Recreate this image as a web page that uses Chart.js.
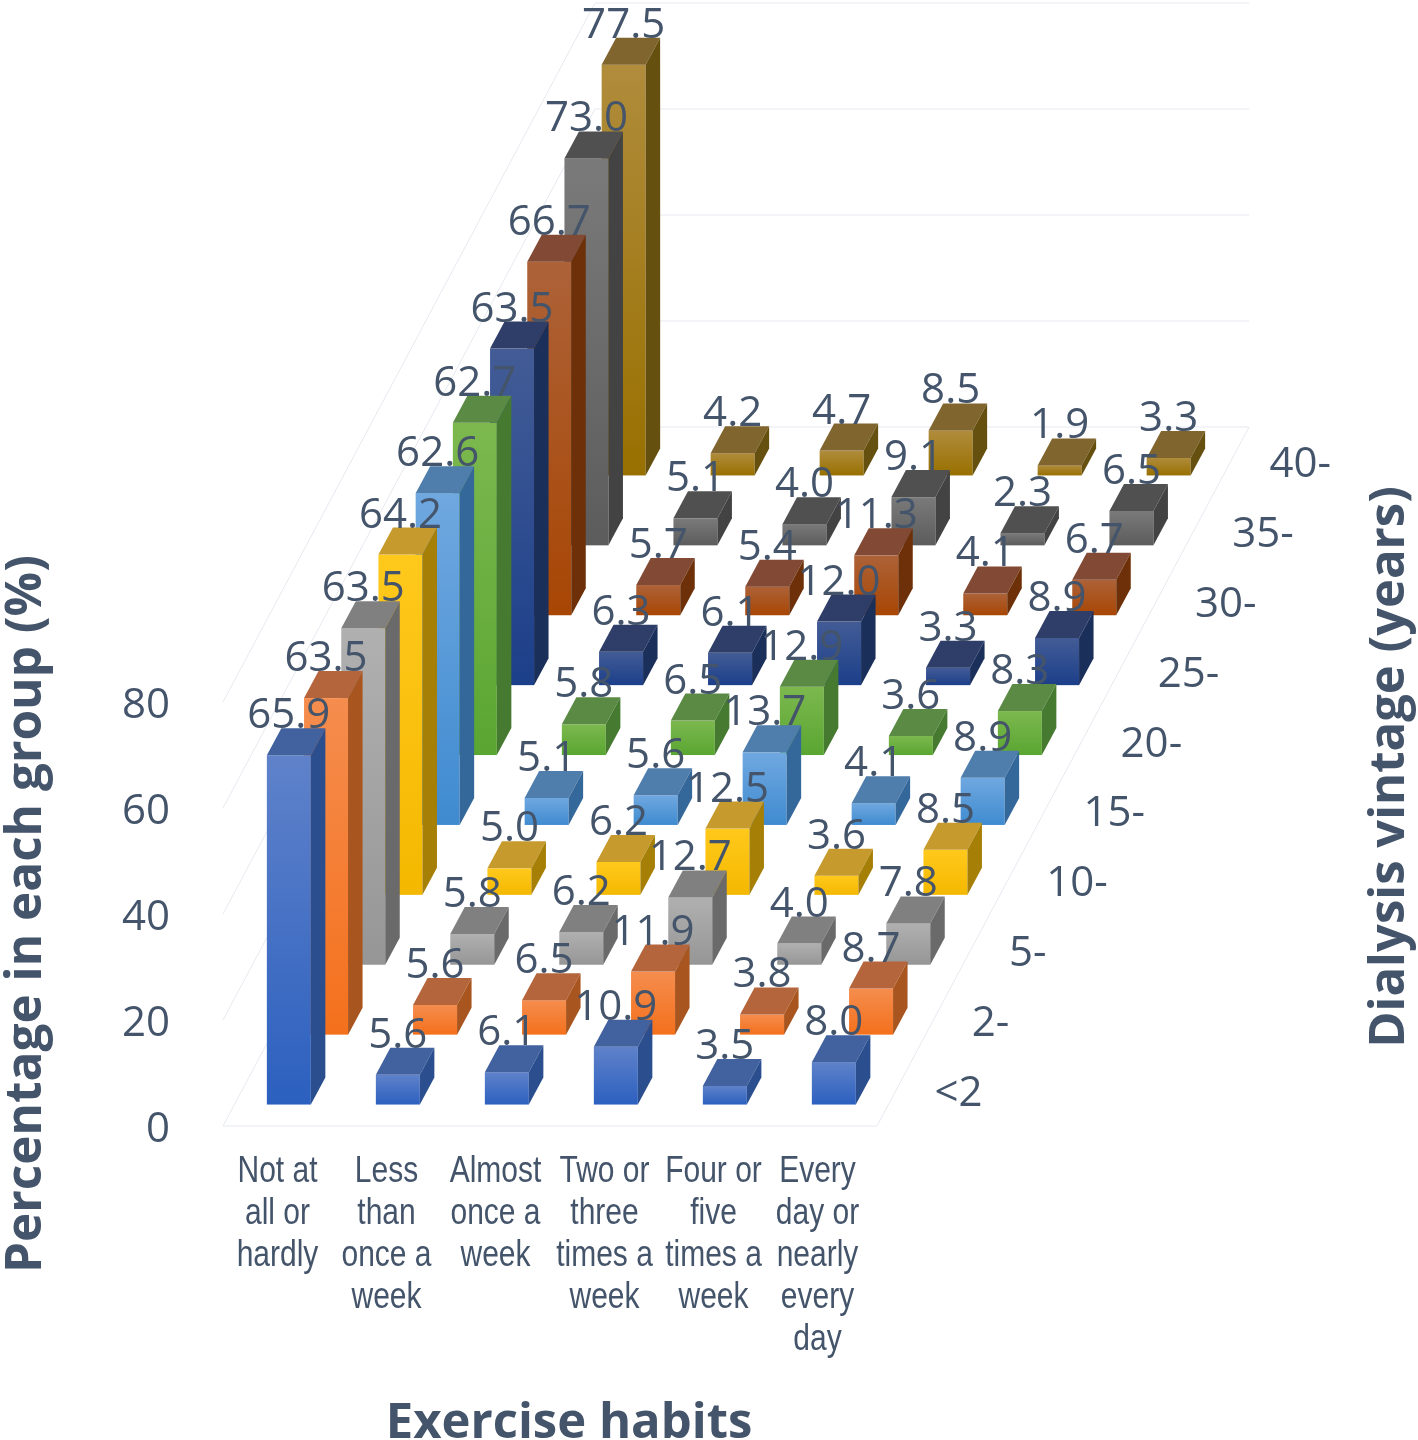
<!DOCTYPE html>
<html>
<head>
<meta charset="utf-8">
<title>Exercise habits by dialysis vintage</title>
<script src="https://cdn.jsdelivr.net/npm/chart.js@4/dist/chart.umd.js"></script>
<style>
  html, body { margin: 0; padding: 0; background: #fff; }
  canvas { display: block; }
</style>
</head>
<body>
<canvas id="chart_canvas" width="1418" height="1440"></canvas>
<script>
// Chart data
var habits = [
    ['Not at', 'all or', 'hardly'],
    ['Less', 'than', 'once a', 'week'],
    ['Almost', 'once a', 'week'],
    ['Two or', 'three', 'times a', 'week'],
    ['Four or', 'five', 'times a', 'week'],
    ['Every', 'day or', 'nearly', 'every', 'day']
];
var vintages = ['<2', '2-', '5-', '10-', '15-', '20-', '25-', '30-', '35-', '40-'];
var yTicks = [0, 20, 40, 60, 80];

var under2 = [65.9, 5.6, 6.1, 10.9, 3.5, 8.0];
var from2 = [63.5, 5.6, 6.5, 11.9, 3.8, 8.7];
var from5 = [63.5, 5.8, 6.2, 12.7, 4.0, 7.8];
var from10 = [64.2, 5.0, 6.2, 12.5, 3.6, 8.5];
var from15 = [62.6, 5.1, 5.6, 13.7, 4.1, 8.9];
var from20 = [62.7, 5.8, 6.5, 12.9, 3.6, 8.3];
var from25 = [63.5, 6.3, 6.1, 12.0, 3.3, 8.9];
var from30 = [66.7, 5.7, 5.4, 11.3, 4.1, 6.7];
var from35 = [73.0, 5.1, 4.0, 9.1, 2.3, 6.5];
var from40 = [77.5, 4.2, 4.7, 8.5, 1.9, 3.3];
var rows = [under2, from2, from5, from10, from15, from20, from25, from30, from35, from40];

// Face colours per row, front to back
var frontLight = ['#5f82ca', '#f58d4e', '#b0b0b0', '#ffc91c', '#70a8e0', '#7cb84e', '#435c96', '#ad6238', '#7a7a7a', '#b08c3c'];
var frontDark = ['#2c60bf', '#f4701c', '#969696', '#f4b800', '#3f8bd0', '#5aa632', '#1c3f8a', '#a84604', '#5c5c5c', '#987000'];
var topFace = ['#41619f', '#b5653c', '#808080', '#c69a2c', '#4f7dac', '#5b8a45', '#2e3e68', '#824a35', '#505050', '#80652e'];
var sideFace = ['#2b4f8e', '#a8551f', '#6a6a6a', '#a67f06', '#35689a', '#467a30', '#1a2f5a', '#6e3008', '#434343', '#66500f'];

var textColor = '#44546a';
var gridColor = '#e6e9ef';

// Projection of the depth axis on the picture
var depthX = 372, depthY = 699;
var barDepthX = 14.5, barDepthY = 27;

function rowShift(row) {
    return {
        x: (row + 0.5) * depthX / rows.length - barDepthX / 2,
        y: (row + 0.5) * depthY / rows.length - barDepthY / 2
    };
}

/**
 * Bar controller that pushes every dataset back along the depth axis
 * and paints the bars as boxes
 */
class Bar3dController extends Chart.BarController {
    draw() {
        var ctx = this.chart.ctx;
        var row = this.index;
        var shift = rowShift(row);
        this._cachedMeta.data.forEach(function(bar) {
            var left = bar.x - bar.width / 2 + shift.x;
            var right = left + bar.width;
            var top = bar.y - shift.y;
            var bottom = bar.base - shift.y;

            var front = ctx.createLinearGradient(0, top, 0, bottom);
            front.addColorStop(0, frontLight[row]);
            front.addColorStop(1, frontDark[row]);
            ctx.fillStyle = front;
            ctx.fillRect(left, top, bar.width, bottom - top);

            ctx.fillStyle = topFace[row];
            ctx.beginPath();
            ctx.moveTo(left, top);
            ctx.lineTo(right, top);
            ctx.lineTo(right + barDepthX, top - barDepthY);
            ctx.lineTo(left + barDepthX, top - barDepthY);
            ctx.closePath();
            ctx.fill();

            ctx.fillStyle = sideFace[row];
            ctx.beginPath();
            ctx.moveTo(right, top);
            ctx.lineTo(right + barDepthX, top - barDepthY);
            ctx.lineTo(right + barDepthX, bottom - barDepthY);
            ctx.lineTo(right, bottom);
            ctx.closePath();
            ctx.fill();
        });
    }
}
Bar3dController.id = 'bar3d';
Bar3dController.defaults = Chart.BarController.defaults;
Bar3dController.overrides = Chart.BarController.overrides;
Chart.register(Bar3dController);

// Floor and walls, from the value scale
var wallsPlugin = {
    id: 'walls',
    beforeDatasetsDraw: function(chart) {
        var ctx = chart.ctx, area = chart.chartArea, y = chart.scales.y;
        ctx.save();
        ctx.strokeStyle = gridColor;
        ctx.lineWidth = 1;
        yTicks.forEach(function(tick) {
            var py = y.getPixelForValue(tick);
            ctx.beginPath();
            ctx.moveTo(area.left, py);
            ctx.lineTo(area.left + depthX, py - depthY);
            ctx.lineTo(area.right + depthX, py - depthY);
            ctx.stroke();
        });
        ctx.beginPath();
        ctx.moveTo(area.left, area.bottom);
        ctx.lineTo(area.right, area.bottom);
        ctx.lineTo(area.right + depthX, area.bottom - depthY);
        ctx.stroke();
        ctx.restore();
    }
};

// All text is placed here: the narrow category labels need a horizontal
// squeeze and Open Sans sits too high for the scales' own tick drawing
var textPlugin = {
    id: 'texts',
    afterDatasetsDraw: function(chart) {
        var ctx = chart.ctx, area = chart.chartArea, x = chart.scales.x, y = chart.scales.y;
        ctx.save();
        ctx.fillStyle = textColor;
        ctx.textBaseline = 'middle';

        // Value labels sit on top of every bar
        ctx.font = '42px "Open Sans"';
        ctx.textAlign = 'center';
        rows.forEach(function(values, row) {
            var shift = rowShift(row);
            chart.getDatasetMeta(row).data.forEach(function(bar, i) {
                ctx.fillText(values[i].toFixed(1), bar.x + shift.x, bar.y - shift.y - 39);
            });
        });

        // Depth axis
        ctx.textAlign = 'left';
        vintages.forEach(function(label, row) {
            ctx.fillText(label, area.right + (row + 0.5) * depthX / rows.length + 39, area.bottom - (row + 0.5) * depthY / rows.length + 3);
        });

        // Value axis
        ctx.textAlign = 'right';
        yTicks.forEach(function(tick) {
            ctx.fillText(String(tick), 170, y.getPixelForValue(tick) + 4);
        });

        // Category axis
        ctx.font = '37.5px "Liberation Sans"';
        ctx.textAlign = 'center';
        habits.forEach(function(lines, i) {
            var cx = x.getPixelForTick(i) - (i === 5 ? 5 : 0);
            lines.forEach(function(line, n) {
                ctx.save();
                ctx.translate(cx, 1172 + n * 42);
                ctx.scale(0.8, 1);
                ctx.fillText(line, 0, 0);
                ctx.restore();
            });
        });

        ctx.font = 'bold 49px "Open Sans"';
        ctx.fillText('Exercise habits', 569, 1424);
        ctx.translate(1390, 767);
        ctx.rotate(-Math.PI / 2);
        ctx.fillText('Dialysis vintage (years)', 0, 0);
        ctx.restore();
    }
};

var datasets = rows.map(function(values, row) {
    return {
        label: vintages[row],
        data: values,
        backgroundColor: frontDark[row],
        barThickness: 44,
        clip: false
    };
});

new Chart(document.getElementById('chart_canvas'), {
    type: 'bar3d',
    data: { labels: habits, datasets: datasets },
    plugins: [wallsPlugin, textPlugin],
    options: {
        responsive: false,
        animation: false,
        grouped: false,
        layout: { padding: { left: 0, right: 541, top: 702, bottom: 0 } },
        plugins: { legend: { display: false }, tooltip: { enabled: false } },
        scales: {
            x: {
                type: 'category',
                offset: true,
                grid: { display: false },
                border: { display: false },
                afterFit: function(scale) { scale.height = 314; },
                ticks: { display: false, autoSkip: false }
            },
            y: {
                type: 'linear',
                min: 0,
                max: 80,
                grid: { display: false },
                border: { display: false },
                afterFit: function(scale) { scale.width = 223; },
                afterBuildTicks: function(scale) {
                    scale.ticks = yTicks.map(function(v) { return { value: v }; });
                },
                ticks: { display: false },
                title: {
                    display: true,
                    text: 'Percentage in each group (%)',
                    color: textColor,
                    padding: { top: 2, bottom: 0 },
                    font: { family: '"Open Sans"', size: 49.5, weight: 'bold', lineHeight: 1 }
                }
            }
        }
    }
});
</script>
</body>
</html>
